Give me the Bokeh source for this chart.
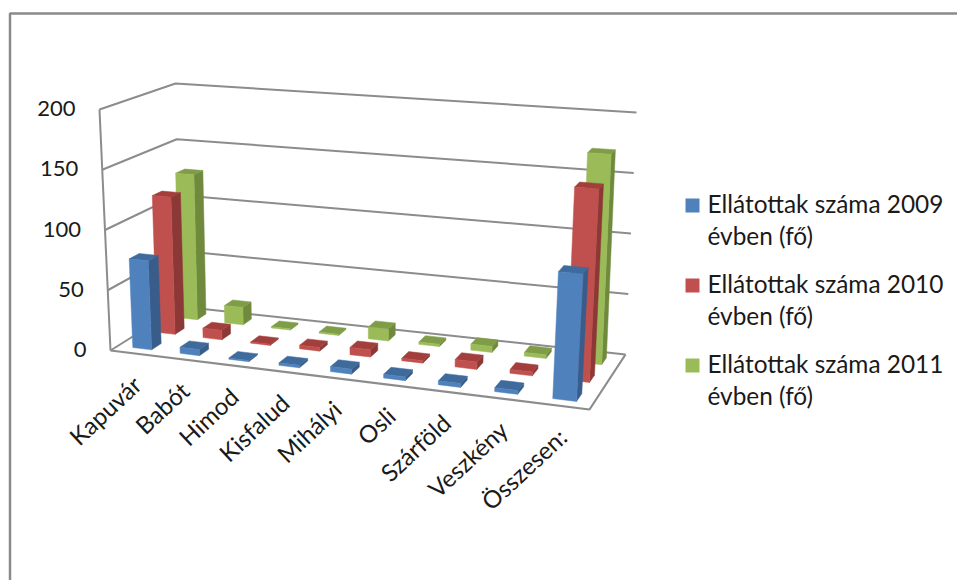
import numpy as np
from bokeh.plotting import figure
from bokeh.models import Range1d
from bokeh.core.properties import value
from bokeh.embed import file_html
from bokeh.resources import INLINE

categories = ["Kapuvár", "Babót", "Himod", "Kisfalud", "Mihályi", "Osli", "Szárföld", "Veszkény", "Összesen:"]
ticks = [0, 50, 100, 150, 200]
y2009 = [74, 5, 1, 2, 4, 3, 3, 3, 98]
y2010 = [117, 8, 1, 3, 6, 2, 6, 3, 153]
y2011 = [127, 15, 1, 1, 10, 2, 5, 3, 171]
legend_lines = [["Ellátottak száma 2009", "évben (fő)"],
                ["Ellátottak száma 2010", "évben (fő)"],
                ["Ellátottak száma 2011", "évben (fő)"]]
front = ["#4F81BD", "#C0504D", "#9BBB59"]
side = ["#385D8A", "#8C3836", "#6F8A3C"]
top = ["#3F6A9C", "#A23F3C", "#7F9C47"]
GRID = "#8C8C8C"
FONT = "Lato"
YMAX = 200.0


def homography(pts):
    src = [(0, 0), (1, 0), (1, 1), (0, 1)]
    A, b = [], []
    for (u, v), (x, y) in zip(src, pts):
        A.append([u, v, 1, 0, 0, 0, -u * x, -v * x]); b.append(x)
        A.append([0, 0, 0, u, v, 1, -u * y, -v * y]); b.append(y)
    h = np.linalg.solve(np.array(A, float), np.array(b, float))
    return np.append(h, 1).reshape(3, 3)


# plot box corners: front-left, front-right, back-right, back-left
H0 = homography([(110, 350), (589, 409), (625, 354), (180, 306)])
H1 = homography([(99, 109), (604, 146), (636, 112), (175, 83)])


def proj(u, v, val):
    q = np.array([u, v, 1.0])
    a = H0 @ q
    b = H1 @ q
    a = a[:2] / a[2]
    b = b[:2] / b[2]
    r = a + (b - a) * (val / YMAX)
    return float(r[0]), float(r[1])


p = figure(width=957, height=580, x_range=Range1d(0, 957), y_range=Range1d(580, 0),
           output_backend="svg", toolbar_location=None, min_border=0, outline_line_color=None)
p.axis.visible = False
p.grid.visible = False

# outer chart frame
p.line([9.5, 9.5, 957], [580, 13, 13], line_color="#8A8A8A", line_width=2.5)

# walls and floor
n = len(categories)
for t in ticks:
    a, b, c = proj(0, 0, t), proj(0, 1, t), proj(1, 1, t)
    p.line([a[0], b[0], c[0]], [a[1], b[1], c[1]], line_color=GRID, line_width=2)
a, b = proj(0, 0, 0), proj(0, 0, YMAX)
p.line([a[0], b[0]], [a[1], b[1]], line_color=GRID, line_width=2)
pts = [proj(0, 0, 0), proj(1, 0, 0), proj(1, 1, 0)]
p.line([q[0] for q in pts], [q[1] for q in pts], line_color=GRID, line_width=2.2)

# bars, back to front
series = [y2009, y2010, y2011]
BW, BD = 0.40, 0.40
xs, ys, cs = [], [], []


def face(points, col):
    xs.append([q[0] for q in points])
    ys.append([q[1] for q in points])
    cs.append(col)


for s in (2, 1, 0):
    v0 = (s + 0.5 - BD / 2) / 3
    v1 = (s + 0.5 + BD / 2) / 3
    for i in range(n):
        u0 = (i + 0.5 - BW / 2) / n + 0.002
        u1 = (i + 0.5 + BW / 2) / n + 0.002
        h = series[s][i]
        face([proj(u1, v0, 0), proj(u1, v1, 0), proj(u1, v1, h), proj(u1, v0, h)], side[s])
        face([proj(u0, v0, h), proj(u1, v0, h), proj(u1, v1, h), proj(u0, v1, h)], top[s])
        face([proj(u0, v0, 0), proj(u1, v0, 0), proj(u1, v0, h), proj(u0, v0, h)], front[s])
p.patches(xs, ys, fill_color=cs, line_color=cs, line_width=0.5)

# value tick labels
tx = [proj(0, 0, t)[0] - 24 for t in ticks]
ty = [proj(0, 0, t)[1] - 1 for t in ticks]
p.text(tx, ty, text=[str(t) for t in ticks], text_align="right", text_baseline="middle",
       text_font=value(FONT), text_font_size="22px", text_color="#1A1A1A")

# category labels
cx = [proj((i + 0.5) / n, 0, 0)[0] + 3 for i in range(n)]
cy = [proj((i + 0.5) / n, 0, 0)[1] + 27 for i in range(n)]
p.text(cx, cy, text=categories, angle=np.radians(43), text_align="right", text_baseline="middle",
       text_font=value(FONT), text_font_size="24px", text_color="#1A1A1A")

# legend
LEG_Y = [205, 285, 365]
LINE = 31.5
p.rect([692] * 3, LEG_Y, width=14, height=14, fill_color=front, line_color=None)
for y0, lines in zip(LEG_Y, legend_lines):
    p.text([707, 707], [y0 - 2, y0 + LINE - 2], text=lines, text_align="left", text_baseline="middle",
           text_font=value(FONT), text_font_size="24.4px", text_color="#1A1A1A")

open("out.html", "w").write(file_html(p, INLINE))
